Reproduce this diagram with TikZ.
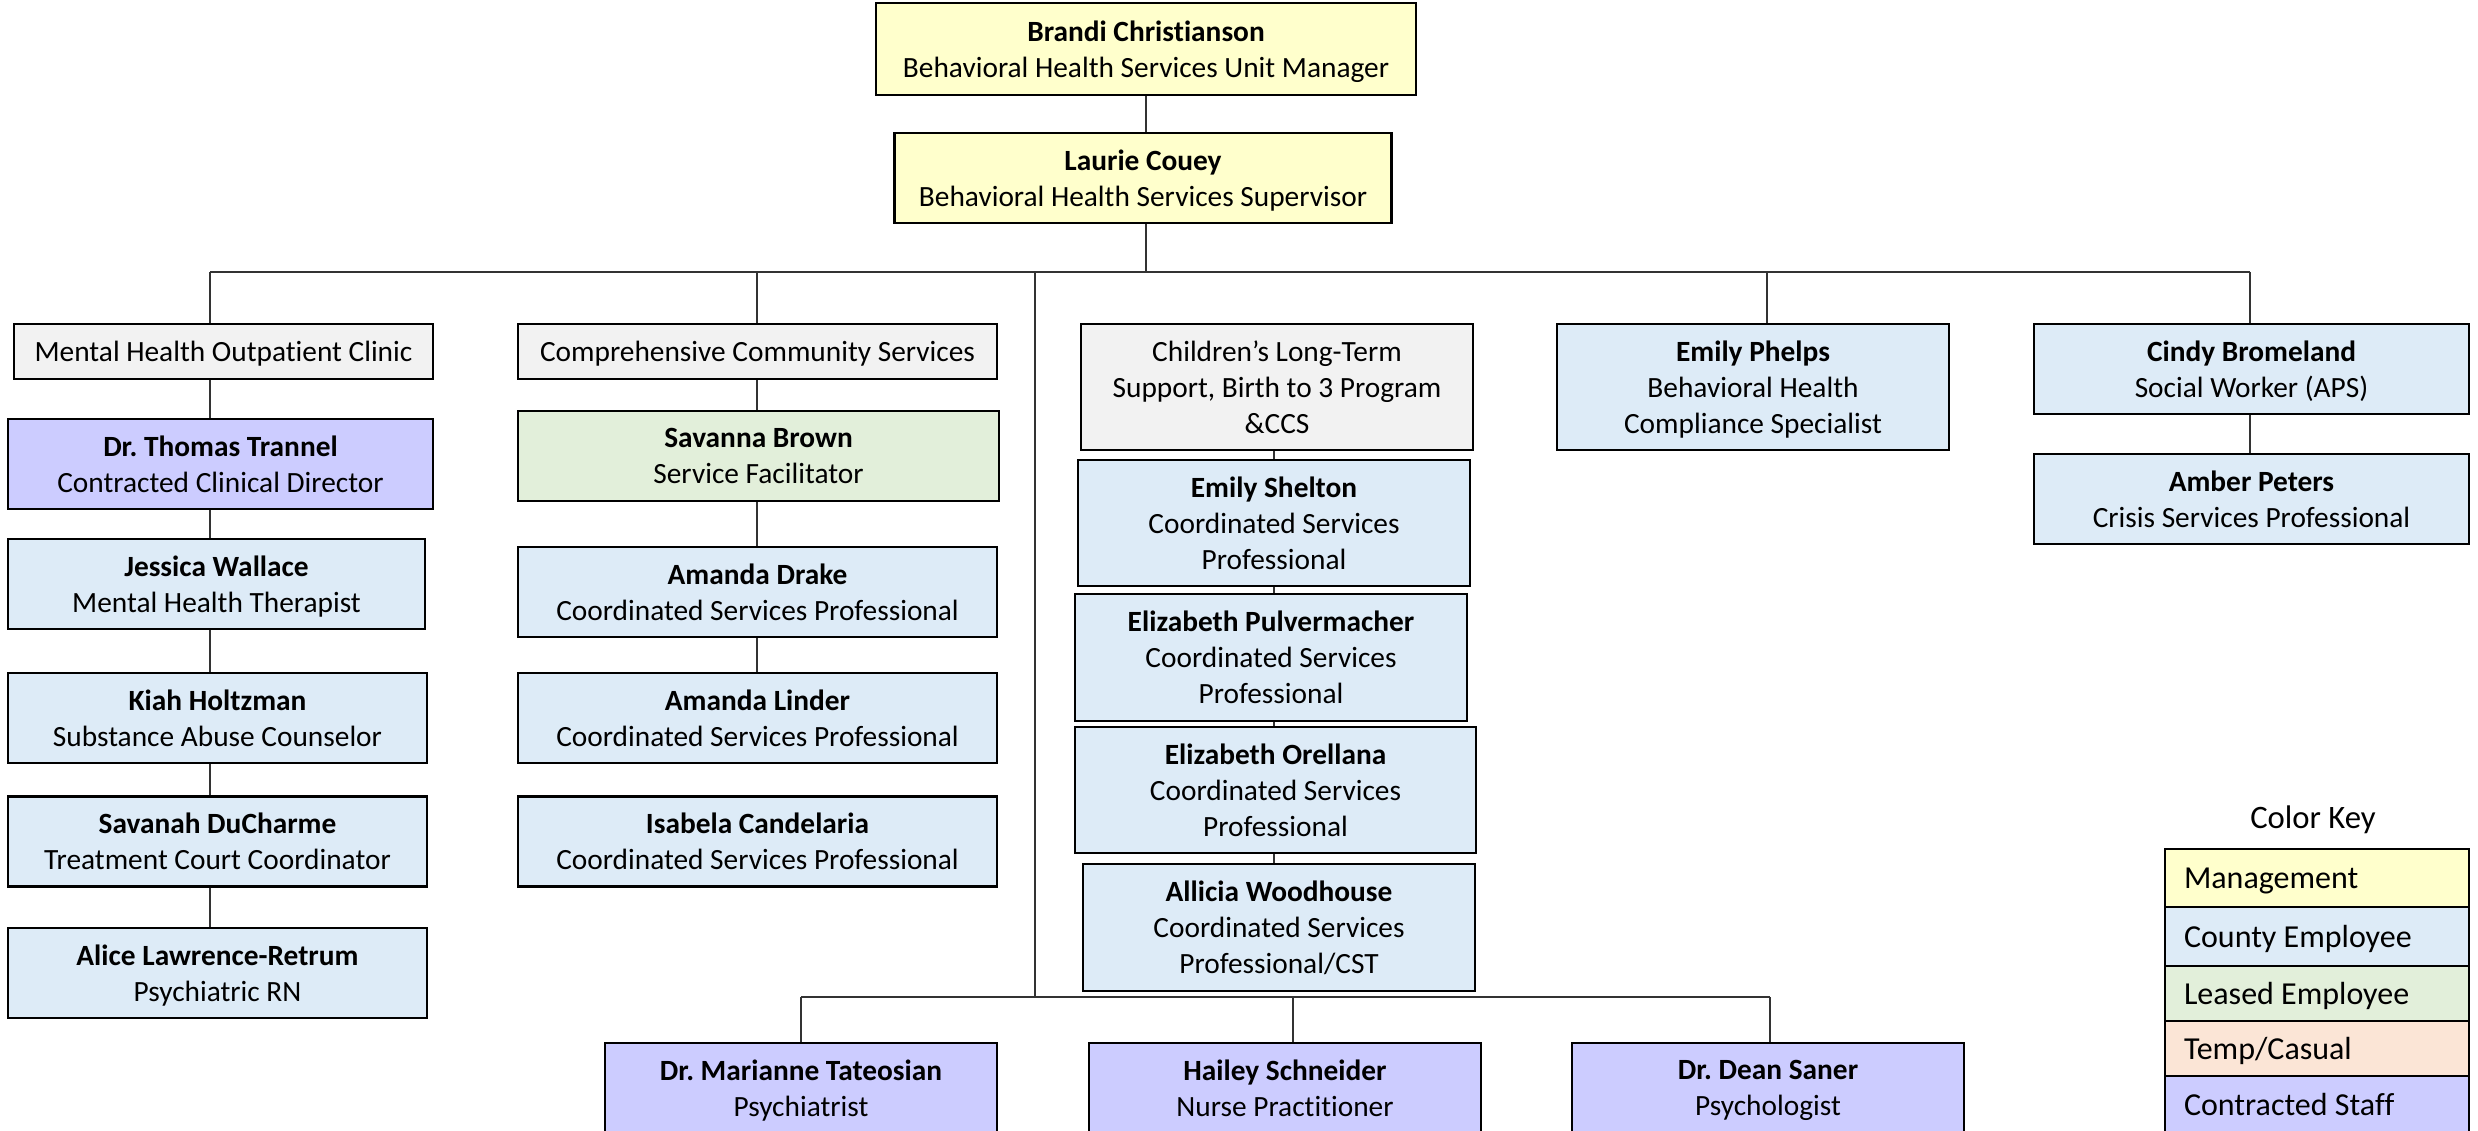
\documentclass[tikz,border=0pt]{standalone}
\usepackage{fontspec}
\setmainfont{Carlito}[Ligatures={NoCommon}]
\frenchspacing
\definecolor{mgmtcol}{HTML}{FFFFCC}
\definecolor{countycol}{HTML}{DDEBF7}
\definecolor{leasedcol}{HTML}{E2EFDA}
\definecolor{tempcol}{HTML}{FBE5D6}
\definecolor{contractcol}{HTML}{CCCCFF}
\definecolor{deptcol}{HTML}{F2F2F2}
\definecolor{linecol}{HTML}{333333}
% name line, and a last line whose descenders do not shift the centring
\newcommand\nm[1]{\textbf{#1}\\}
\newcommand\lastline[1]{\raisebox{0pt}[\height][0pt]{#1}}
\begin{document}
\begin{tikzpicture}[x=0.01cm,y=-0.01cm,
  box/.style={draw=black, line width=0.7pt, align=center, inner sep=0pt,
    font=\fontsize{8.35}{10.25}\selectfont},
  sz/.style 2 args={minimum width=#1*0.01cm, minimum height=#2*0.01cm},
  mgmt/.style={box, fill=mgmtcol},
  county/.style={box, fill=countycol},
  leased/.style={box, fill=leasedcol},
  contract/.style={box, fill=contractcol},
  dept/.style={box, fill=deptcol},
  link/.style={draw=linecol, line width=0.5pt},
  keyrow/.style={draw=black, line width=0.7pt, anchor=north west, align=flush left,
    inner xsep=0.19cm, inner ysep=0pt, outer sep=0pt, text width=2.66cm,
    font=\fontsize{9.1}{11}\selectfont},
]
\clip (0,0) rectangle (2478,1131);
\fill[white] (0,0) rectangle (2478,1131);

% management
\node[mgmt, sz={540}{92}] (brandi) at (1146,49) {\nm{Brandi Christianson}\lastline{Behavioral Health Services Unit Manager}};
\node[mgmt, sz={497}{90}] (laurie) at (1143,178) {\nm{Laurie Couey}\lastline{Behavioral Health Services Supervisor}};

% column guides and bus
\coordinate (busL) at (210,272);
\coordinate (busR) at (2250,272);
\coordinate (c1) at (210,0);
\coordinate (c2) at (757,0);
\coordinate (c3) at (1035,0);
\coordinate (c4) at (1767,0);
\coordinate (c5) at (2250,0);
\coordinate (cs) at (1274,0);
\coordinate (c6) at (1293,0);

% Mental Health Outpatient Clinic
\node[dept, sz={419}{55}] (mhoc) at (223.5,351.5) {\lastline{Mental Health Outpatient Clinic}};
\node[contract, sz={425}{90}] (trannel) at (220.5,464) {\nm{Dr. Thomas Trannel}\lastline{Contracted Clinical Director}};
\node[county, sz={417}{90}] (wallace) at (216.5,584) {\nm{Jessica Wallace}\lastline{Mental Health Therapist}};
\node[county, sz={419}{90}] (holtzman) at (217.5,718) {\nm{Kiah Holtzman}\lastline{Substance Abuse Counselor}};
\node[county, sz={419}{90}] (ducharme) at (217.5,841.5) {\nm{Savanah DuCharme}\lastline{Treatment Court Coordinator}};
\node[county, sz={419}{90}] (retrum) at (217.5,973) {\nm{Alice Lawrence-Retrum}\lastline{Psychiatric RN}};

% Comprehensive Community Services
\node[dept, sz={479}{55}] (ccs) at (757.5,351.5) {\lastline{Comprehensive Community Services}};
\node[leased, sz={481}{90}] (brown) at (758.5,456) {\nm{Savanna Brown}\lastline{Service Facilitator}};
\node[county, sz={479}{90}] (drake) at (757.5,592) {\nm{Amanda Drake}\lastline{Coordinated Services Professional}};
\node[county, sz={479}{90}] (linder) at (757.5,718) {\nm{Amanda Linder}\lastline{Coordinated Services Professional}};
\node[county, sz={479}{90}] (candelaria) at (757.5,841.5) {\nm{Isabela Candelaria}\lastline{Coordinated Services Professional}};

% Children's Long-Term Support
\node[dept, sz={392}{126}] (clts) at (1277,387) {Children’s Long-Term\\Support, Birth to 3 Program\\\lastline{\&CCS}};
\node[county, sz={392}{126}] (shelton) at (1274,523) {\nm{Emily Shelton}Coordinated Services\\\lastline{Professional}};
\node[county, sz={392}{127}] (pulver) at (1271,657.5) {\nm{Elizabeth Pulvermacher}Coordinated Services\\\lastline{Professional}};
\node[county, sz={401}{126}] (orellana) at (1275.5,790) {\nm{Elizabeth Orellana}Coordinated Services\\\lastline{Professional}};
\node[county, sz={392}{127}] (woodhouse) at (1279,927.5) {\nm{Allicia Woodhouse}Coordinated Services\\\lastline{Professional/CST}};

% contracted clinicians
\coordinate (lowL) at (801,997);
\coordinate (lowR) at (1770,997);
\node[contract, sz={392}{90}] (tateosian) at (801,1088) {\nm{Dr. Marianne Tateosian}\lastline{Psychiatrist}};
\node[contract, sz={392}{90}] (schneider) at (1285,1088) {\nm{Hailey Schneider}\lastline{Nurse Practitioner}};
\node[contract, sz={392}{90}] (saner) at (1768,1088) {\nm{Dr. Dean Saner}\lastline{Psychologist}};

% right-hand staff
\node[county, sz={392}{126}] (phelps) at (1753,387) {\nm{Emily Phelps}Behavioral Health\\\lastline{Compliance Specialist}};
\node[county, sz={435}{90}] (bromeland) at (2251.5,369) {\nm{Cindy Bromeland}\lastline{Social Worker (APS)}};
\node[county, sz={435}{90}] (peters) at (2251.5,499) {\nm{Amber Peters}\lastline{Crisis Services Professional}};

% reporting lines
\draw[link] (brandi.south) -- (brandi.south |- laurie.north);
\draw[link] (brandi.south |- laurie.south) -- (brandi.south |- busL);
\draw[link] (busL) -- (busR);
\draw[link] (busL) -- (mhoc.north -| c1);
\draw[link] (mhoc.south -| c1) -- (trannel.north -| c1);
\draw[link] (trannel.south -| c1) -- (wallace.north -| c1);
\draw[link] (wallace.south -| c1) -- (holtzman.north -| c1);
\draw[link] (holtzman.south -| c1) -- (ducharme.north -| c1);
\draw[link] (ducharme.south -| c1) -- (retrum.north -| c1);

\draw[link] (busL -| c2) -- (ccs.north -| c2);
\draw[link] (ccs.south -| c2) -- (brown.north -| c2);
\draw[link] (brown.south -| c2) -- (drake.north -| c2);
\draw[link] (drake.south -| c2) -- (linder.north -| c2);

\draw[link] (clts.south -| cs) -- (shelton.north -| cs);
\draw[link] (shelton.south -| cs) -- (pulver.north -| cs);
\draw[link] (pulver.south -| cs) -- (orellana.north -| cs);
\draw[link] (orellana.south -| cs) -- (woodhouse.north -| cs);

\draw[link] (busL -| c3) -- (lowL -| c3);
\draw[link] (lowL) -- (lowR);
\draw[link] (lowL) -- (tateosian.north);
\draw[link] (lowL -| c6) -- (schneider.north -| c6);
\draw[link] (lowR) -- (saner.north -| lowR);

\draw[link] (busL -| c4) -- (phelps.north -| c4);
\draw[link] (busR) -- (bromeland.north -| c5);
\draw[link] (bromeland.south -| c5) -- (peters.north -| c5);

% colour key
\node[font=\fontsize{9.3}{11}\selectfont] (keytitle) at (2313,820) {Color Key};
\node[keyrow, fill=mgmtcol, minimum height=0.58cm] (k1) at (2165,849) {\lastline{Management}};
\node[keyrow, fill=countycol, minimum height=0.59cm] (k2) at (k1.south west) {\lastline{County Employee}};
\node[keyrow, fill=leasedcol, minimum height=0.55cm] (k3) at (k2.south west) {\lastline{Leased Employee}};
\node[keyrow, fill=tempcol, minimum height=0.55cm] (k4) at (k3.south west) {\lastline{Temp/Casual}};
\node[keyrow, fill=contractcol, minimum height=0.57cm] (k5) at (k4.south west) {\lastline{Contracted Staff}};
\end{tikzpicture}
\end{document}
